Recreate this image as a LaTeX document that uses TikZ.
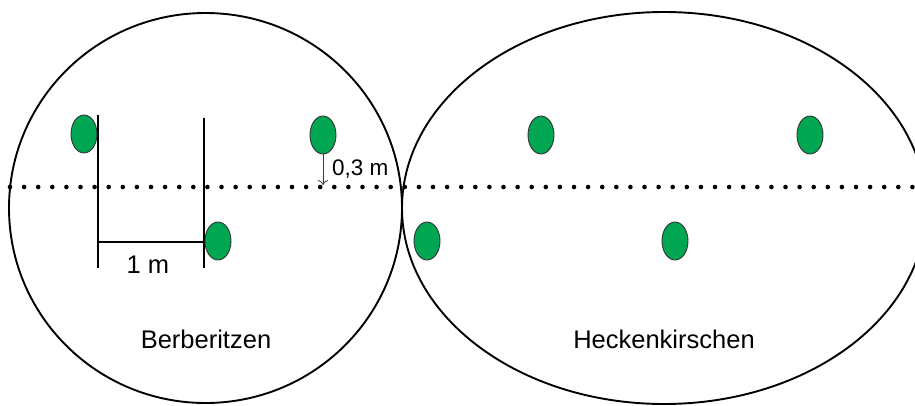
\documentclass[tikz,border=0pt]{standalone}
\usepackage{fontspec}
\setmainfont{Liberation Sans}
\usetikzlibrary{arrows.meta,positioning,shapes.geometric}
\definecolor{shrubgreen}{RGB}{0,166,81}
\definecolor{arrgray}{RGB}{60,60,60}

\begin{document}
\begin{tikzpicture}[
  x=1pt,y=-1pt,
  bed/.style={draw,ellipse,line width=1.9pt,inner sep=0pt},
  shrub/.style={draw=black!80,fill=shrubgreen,ellipse,line width=0.9pt,minimum width=26pt,minimum height=38pt,inner sep=0pt},
  rowline/.style={line width=4.6pt,line cap=round,dash pattern=on 0pt off 14.1pt},
  meas/.style={line width=2.3pt},
  arr/.style={-{To[length=5pt]},arrgray,line width=0.8pt},
  lbl/.style={font=\fontsize{25.5}{29}\selectfont,inner sep=0pt},
  ]
  \useasboundingbox (0,0) rectangle (915,405);
  \clip (0,0) rectangle (915,405);
  % the two beds
  \node[bed,minimum width=393pt,minimum height=390pt] (berb) at (205.5,208) {};
  \node[bed,minimum width=524pt,minimum height=392pt] (heck) at (664,208) {};
  % planting row
  \coordinate (row-w) at (10,187);
  \coordinate (row-e) at (915,187);
  \draw[rowline] (row-w) -- (row-e);
  % 1 m spacing
  \coordinate (m1t) at (98,115);  \coordinate (m1b) at (98,268);
  \coordinate (m2t) at (204,118); \coordinate (m2b) at (204,268);
  \coordinate (m1m) at (98,242);  \coordinate (m2m) at (204,242);
  \draw[meas] (m1t) -- (m1b); \draw[meas] (m2t) -- (m2b);
  \draw[meas] (m1m) -- (m2m);
  % shrubs
  \node[shrub] (b1) at (84,134) {};
  \node[shrub] (b2) at (323,135) {};
  \node[shrub] (b3) at (218,241) {};
  \node[shrub] (h1) at (541,135) {};
  \node[shrub] (h2) at (810,135) {};
  \node[shrub] (h3) at (427,241) {};
  \node[shrub] (h4) at (675,241) {};
  % distance to the row
  \coordinate (gap-end) at (323,185);
  \draw[arr] (b2.south) -- (gap-end);
  \node[lbl,font=\fontsize{22.5}{26}\selectfont,anchor=base west] (gap) at (332,175) {0,3 m};
  \node[lbl,anchor=base] (onem) at (148,273) {1 m};
  \node[lbl,anchor=base] (berb-lbl) at (206,348) {Berberitzen};
  \node[lbl,anchor=base] (heck-lbl) at (664,348) {Heckenkirschen};
\end{tikzpicture}
\end{document}
